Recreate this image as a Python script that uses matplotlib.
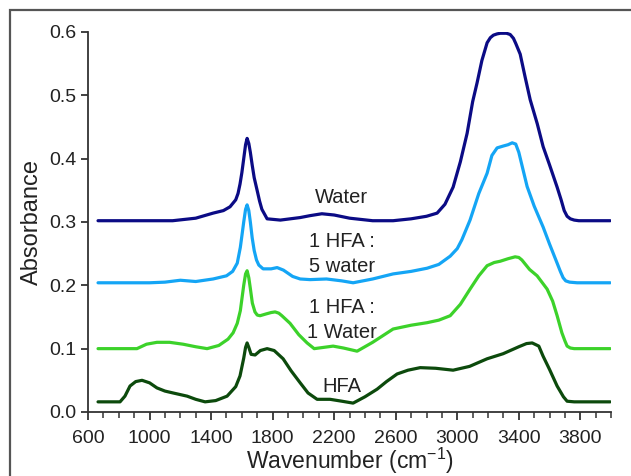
import matplotlib
matplotlib.use("Agg")
import matplotlib.pyplot as plt
from matplotlib.patches import Rectangle
from matplotlib.ticker import MultipleLocator, FormatStrFormatter

plt.rcParams['font.family'] = ['Liberation Sans', 'DejaVu Sans']

# spectra (wavenumber, absorbance incl. offset)
water_x = [665, 800, 1000, 1150, 1300, 1413, 1480, 1523, 1560, 1575, 1588, 1600, 1612, 1624, 1634, 1645, 1655, 1667,
           1680, 1700, 1715, 1730, 1764, 1850, 1979, 2043, 2120, 2200, 2300, 2450, 2583, 2700, 2800, 2869, 2920,
           2973, 3020, 3064, 3100, 3129, 3160, 3194, 3215, 3235, 3259, 3280, 3300, 3320, 3344, 3365, 3380, 3409,
           3440, 3474, 3520, 3558, 3600, 3649, 3675, 3695, 3714, 3735, 3760, 3790, 3880, 3994]
water_y = [0.302, 0.302, 0.302, 0.302, 0.306, 0.314, 0.318, 0.324, 0.335, 0.345, 0.36, 0.378, 0.40, 0.422, 0.432, 0.424, 0.41, 0.39,
           0.37, 0.349, 0.333, 0.32, 0.305, 0.303, 0.307, 0.310, 0.313, 0.311, 0.306, 0.302, 0.302, 0.305, 0.309, 0.314, 0.328,
           0.355, 0.395, 0.44, 0.49, 0.52, 0.555, 0.583, 0.591, 0.595, 0.597, 0.598, 0.598, 0.598, 0.596, 0.59, 0.582, 0.565,
           0.53, 0.493, 0.455, 0.419, 0.39, 0.355, 0.335, 0.318, 0.309, 0.305, 0.303, 0.302, 0.302, 0.302]

w5_x = [665, 800, 1000, 1100, 1200, 1300, 1413, 1500, 1540, 1570, 1590, 1600, 1612, 1624, 1634, 1645, 1655, 1667,
        1680, 1695, 1710, 1738, 1790, 1829, 1870, 1930, 1979, 2043, 2150, 2250, 2323, 2450, 2583, 2700, 2804,
        2880, 2954, 3000, 3030, 3083, 3140, 3194, 3225, 3259, 3300, 3330, 3357, 3380, 3400, 3454, 3500, 3558,
        3600, 3649, 3670, 3688, 3705, 3730, 3779, 3880, 3994]
w5_y = [0.204, 0.204, 0.204, 0.205, 0.208, 0.206, 0.21, 0.215, 0.222, 0.235, 0.26, 0.278, 0.30, 0.32, 0.327, 0.318, 0.30, 0.275,
        0.255, 0.24, 0.232, 0.226, 0.226, 0.228, 0.224, 0.214, 0.21, 0.209, 0.21, 0.207, 0.204, 0.21, 0.218, 0.222, 0.227,
        0.233, 0.246, 0.258, 0.272, 0.303, 0.345, 0.377, 0.405, 0.417, 0.42, 0.422, 0.425, 0.423, 0.41, 0.356, 0.325, 0.292,
        0.265, 0.235, 0.222, 0.212, 0.207, 0.205, 0.204, 0.204, 0.204]

w1_x = [665, 800, 918, 980, 1048, 1130, 1218, 1300, 1374, 1450, 1510, 1543, 1570, 1590, 1612, 1624, 1634, 1645,
        1655, 1668, 1685, 1700, 1718, 1760, 1790, 1816, 1840, 1860, 1913, 1970, 2024, 2070, 2193, 2260, 2349,
        2450, 2583, 2700, 2804, 2880, 2954, 3020, 3083, 3140, 3194, 3240, 3279, 3330, 3376, 3400, 3420, 3470,
        3519, 3584, 3620, 3649, 3680, 3700, 3714, 3735, 3760, 3880, 3994]
w1_y = [0.10, 0.10, 0.10, 0.107, 0.11, 0.11, 0.107, 0.103, 0.10, 0.105, 0.115, 0.125, 0.14, 0.16, 0.20, 0.218, 0.223, 0.212,
        0.195, 0.172, 0.158, 0.153, 0.152, 0.155, 0.157, 0.158, 0.156, 0.152, 0.14, 0.122, 0.109, 0.10, 0.104, 0.101, 0.096,
        0.11, 0.131, 0.137, 0.141, 0.145, 0.152, 0.17, 0.194, 0.215, 0.231, 0.236, 0.238, 0.242, 0.245, 0.244, 0.24, 0.225,
        0.215, 0.194, 0.175, 0.152, 0.125, 0.112, 0.104, 0.101, 0.10, 0.10, 0.10]

hfa_x = [665, 808, 840, 873, 910, 951, 1000, 1048, 1100, 1153, 1244, 1300, 1361, 1430, 1504, 1560, 1588,
         1612, 1624, 1634, 1645, 1660, 1686, 1720, 1764, 1810, 1868, 1920, 1979, 2030, 2089, 2173, 2250, 2323,
         2400, 2479, 2540, 2609, 2680, 2759, 2860, 2973, 3080, 3194, 3298, 3400, 3450, 3487, 3530, 3558, 3600,
         3649, 3690, 3714, 3760, 3880, 3994]
hfa_y = [0.016, 0.016, 0.025, 0.041, 0.048, 0.05, 0.046, 0.038, 0.033, 0.03, 0.025, 0.02, 0.016, 0.018, 0.025, 0.04, 0.057,
         0.085, 0.102, 0.109, 0.102, 0.091, 0.09, 0.097, 0.1, 0.097, 0.084, 0.065, 0.046, 0.03, 0.02, 0.02, 0.017, 0.014,
         0.024, 0.036, 0.048, 0.06, 0.066, 0.07, 0.069, 0.066, 0.072, 0.084, 0.092, 0.103, 0.108, 0.109, 0.104, 0.088, 0.067,
         0.041, 0.024, 0.017, 0.016, 0.016, 0.016]

labels = ['Water', '1 HFA :\n5 water', '1 HFA :\n1 Water', 'HFA']
label_x = [2250, 2250, 2250, 2250]
label_y = [0.338, 0.249, 0.146, 0.041]

fig = plt.figure(figsize=(6.31, 4.76), dpi=100)
ax = fig.add_axes([0.1395, 0.1345, 0.829, 0.7983])

for xs, ys, c in [(water_x, water_y, '#0b0b85'), (w5_x, w5_y, '#14a5f5'),
                  (w1_x, w1_y, '#3cd22a'), (hfa_x, hfa_y, '#0c4a0c')]:
    ax.plot(xs, ys, color=c, lw=2.3, solid_joinstyle='round', solid_capstyle='round')

for t, x, y in zip(labels, label_x, label_y):
    ax.text(x, y, t, ha='center', va='center', fontsize=14.5, linespacing=1.4, color='#222222')

ax.set_xlim(600, 4000)
ax.set_ylim(0, 0.6)
ax.set_xticks([600, 1000, 1400, 1800, 2200, 2600, 3000, 3400, 3800])
ax.xaxis.set_minor_locator(MultipleLocator(100))
ax.yaxis.set_major_locator(MultipleLocator(0.1))
ax.yaxis.set_major_formatter(FormatStrFormatter('%.1f'))

for s in ['top', 'right']:
    ax.spines[s].set_visible(False)
for s in ['left', 'bottom']:
    ax.spines[s].set_color('#333333')
    ax.spines[s].set_linewidth(1.3)

ax.tick_params(axis='both', which='major', labelsize=14, colors='#333333', labelcolor='#222222',
               width=1.3, length=5, direction='out')
ax.tick_params(axis='x', which='major', length=6, pad=7)
ax.tick_params(axis='x', which='minor', length=4, width=1.1, colors='#333333')

ax.set_xlabel('Wavenumber (cm$^{\\mathregular{-1}}$)', fontsize=16.5, labelpad=-1, color='#222222')
ax.set_ylabel('Absorbance', fontsize=17, labelpad=4, color='#222222')

# grey frame round the figure (cut off at right and bottom)
fig.patches.append(Rectangle((10 / 631, -0.05), 1.1, 1 - 10 / 476 + 0.05, transform=fig.transFigure,
                             fill=False, edgecolor='#555555', lw=1.6))

fig.savefig('out.png', dpi=100)
